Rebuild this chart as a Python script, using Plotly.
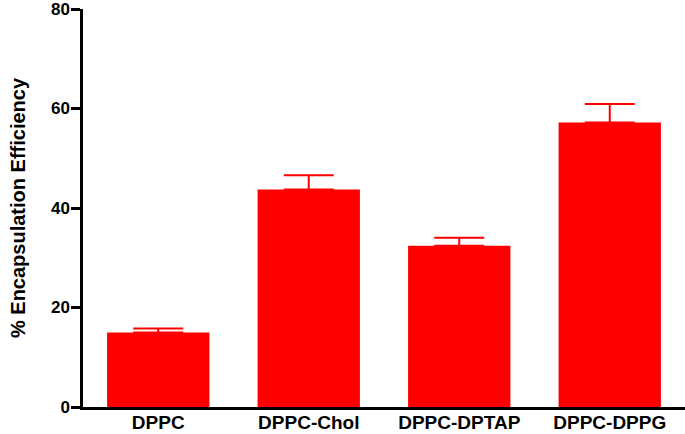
import plotly.graph_objects as go

categories = ["DPPC", "DPPC-Chol", "DPPC-DPTAP", "DPPC-DPPG"]
values = [15.0, 43.7, 32.4, 57.2]
errors = [0.8, 2.9, 1.6, 3.7]
y_ticks = [0, 20, 40, 60, 80]
y_title = "% Encapsulation Efficiency"

fig = go.Figure(go.Bar(
    x=categories, y=values,
    marker=dict(color="#FF0000", line=dict(width=0)),
    error_y=dict(type="data", array=errors, symmetric=False, arrayminus=[0]*len(errors),
                 color="#FF0000", thickness=2, width=25),
))

font = dict(family="Liberation Sans, Arial, sans-serif", color="black", weight="bold")

fig.update_layout(
    width=685, height=434,
    margin=dict(l=83, r=0, t=9, b=27),
    paper_bgcolor="white", plot_bgcolor="white",
    bargap=0.32,
    showlegend=False,
    xaxis=dict(range=[-0.5, 3.5], showline=True, linecolor="black", linewidth=2.5,
               ticks="", showgrid=False, zeroline=False, automargin=False,
               ticklabelstandoff=-4, ticklabeloverflow="allow",
               tickfont=dict(size=19, **font)),
    yaxis=dict(range=[0, 80], tickvals=y_ticks, showline=True, linecolor="black", linewidth=2.5,
               ticks="outside", ticklen=9, tickwidth=2.5, tickcolor="black",
               showgrid=False, zeroline=False, automargin=False,
               ticklabelstandoff=-2, ticklabeloverflow="allow",
               tickfont=dict(size=17, **font),
               title=dict(text=y_title, font=dict(size=20, **font), standoff=20)),
)

fig.write_html("out.html", config={"displayModeBar": False},
               post_script="document.body.style.margin='0';document.body.style.overflow='hidden';")
